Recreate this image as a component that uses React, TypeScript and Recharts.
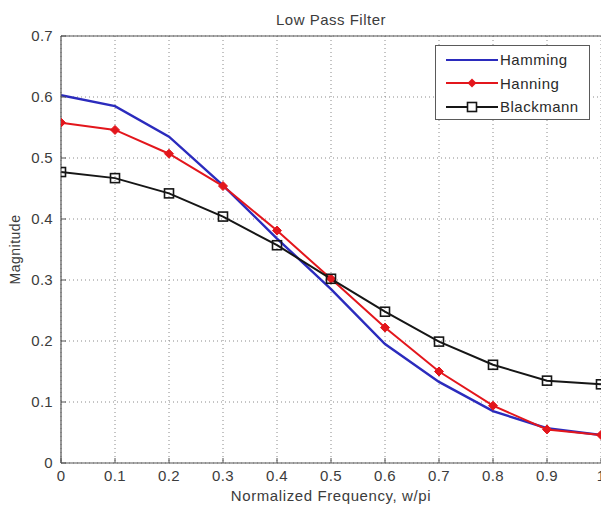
import React from "react";
import { LineChart, Line, XAxis, YAxis, CartesianGrid, Legend, ReferenceLine, Label } from "recharts";

const frequencies = [0, 0.1, 0.2, 0.3, 0.4, 0.5, 0.6, 0.7, 0.8, 0.9, 1.0];
const xTickLabels = ["0", "0.1", "0.2", "0.3", "0.4", "0.5", "0.6", "0.7", "0.8", "0.9", "1"];
const yTicks = [0, 0.1, 0.2, 0.3, 0.4, 0.5, 0.6, 0.7];
const yTickLabels = ["0", "0.1", "0.2", "0.3", "0.4", "0.5", "0.6", "0.7"];

const hamming = [0.603, 0.585, 0.535, 0.455, 0.368, 0.285, 0.195, 0.133, 0.085, 0.057, 0.046];
const hanning = [0.558, 0.546, 0.507, 0.454, 0.381, 0.302, 0.222, 0.15, 0.094, 0.055, 0.046];
const blackmann = [0.477, 0.467, 0.442, 0.404, 0.357, 0.302, 0.248, 0.199, 0.161, 0.135, 0.129];

const seriesNames = ["Hamming", "Hanning", "Blackmann"];
const seriesColors = ["#2b2bbd", "#e3161c", "#161616"];

const data = frequencies.map((x, i) => ({
  x,
  hamming: hamming[i],
  hanning: hanning[i],
  blackmann: blackmann[i],
}));

const FONT = "'Liberation Sans', Arial, sans-serif";
const TEXT = "#3c3c3c";

const Diamond = (props: any) => {
  const { cx, cy, index } = props;
  if (cx == null || cy == null) return <g key={`d-${index}`} />;
  const r = 4.5;
  return (
    <polygon
      key={`d-${index}`}
      points={`${cx},${cy - r} ${cx + r},${cy} ${cx},${cy + r} ${cx - r},${cy}`}
      fill={seriesColors[1]}
      stroke={seriesColors[1]}
      strokeWidth={1}
    />
  );
};

const Square = (props: any) => {
  const { cx, cy, index } = props;
  if (cx == null || cy == null) return <g key={`s-${index}`} />;
  const s = 9;
  return (
    <rect
      key={`s-${index}`}
      x={cx - s / 2}
      y={cy - s / 2}
      width={s}
      height={s}
      fill="none"
      stroke={seriesColors[2]}
      strokeWidth={1.6}
    />
  );
};

const LegendBox = () => (
  <div
    style={{
      width: 153,
      height: 71,
      border: "1px solid #5a5a5a",
      background: "#fff",
      boxSizing: "content-box",
      paddingTop: 2,
    }}
  >
    {seriesNames.map((name, i) => (
      <div key={name} style={{ display: "flex", alignItems: "center", height: 23.5 }}>
        <svg width={62} height={14} style={{ marginLeft: 8 }}>
          <line x1={2} y1={7} x2={54} y2={7} stroke={seriesColors[i]} strokeWidth={2.2} />
          {i === 1 && <polygon points="28,2.5 32.5,7 28,11.5 23.5,7" fill={seriesColors[1]} />}
          {i === 2 && <rect x={23.5} y={2.5} width={9} height={9} fill="#fff" stroke={seriesColors[2]} strokeWidth={1.6} />}
        </svg>
        <span
          style={{
            fontFamily: FONT,
            fontSize: 15,
            letterSpacing: 0.5,
            color: "#2a2a2a",
            marginLeft: -6,
          }}
        >
          {name}
        </span>
      </div>
    ))}
  </div>
);

const XLabel = (props: any) => {
  const vb = props.viewBox || {};
  return (
    <text
      x={vb.x + vb.width / 2}
      y={495}
      textAnchor="middle"
      dominantBaseline="central"
      fontFamily={FONT}
      fontSize={15}
      letterSpacing={0.6}
      fill={TEXT}
    >
      Normalized Frequency, w/pi
    </text>
  );
};

const YLabel = (props: any) => {
  const vb = props.viewBox || {};
  const cy = vb.y + vb.height / 2;
  return (
    <text
      x={15}
      y={cy}
      transform={`rotate(-90, 15, ${cy})`}
      textAnchor="middle"
      dominantBaseline="central"
      fontFamily={FONT}
      fontSize={14}
      letterSpacing={0.5}
      fill={TEXT}
    >
      Magnitude
    </text>
  );
};

export default function App() {
  return (
    <div style={{ position: "absolute", left: 0, top: 0, width: 601, height: 508, background: "#fff" }}>
      <div
        style={{
          position: "absolute",
          left: 61,
          width: 540,
          top: 10,
          textAlign: "center",
          fontFamily: FONT,
          fontSize: 15,
          letterSpacing: 0.5,
          lineHeight: "20px",
          color: TEXT,
        }}
      >
        Low Pass Filter
      </div>
      <LineChart width={601} height={508} data={data} margin={{ top: 36, right: 0, bottom: 0, left: 0 }}>
        <CartesianGrid stroke="#8a8a8a" strokeDasharray="1 3" strokeWidth={1} />
        <XAxis
          dataKey="x"
          type="number"
          domain={[0, 1]}
          ticks={frequencies}
          tickFormatter={(v: number) => xTickLabels[frequencies.findIndex((f) => Math.abs(f - v) < 1e-6)] ?? String(v)}
          height={45}
          interval={0}
          allowDataOverflow
          axisLine={{ stroke: "#555", strokeWidth: 1.2 }}
          tickLine={{ stroke: "#555" }}
          tickSize={-5}
          tickMargin={12}
          tick={{ fill: TEXT, fontSize: 15, fontFamily: FONT, letterSpacing: 0.3 }}
        >
          <Label content={<XLabel />} />
        </XAxis>
        <YAxis
          type="number"
          domain={[0, 0.7]}
          ticks={yTicks}
          tickFormatter={(v: number) => yTickLabels[yTicks.findIndex((t) => Math.abs(t - v) < 1e-6)] ?? String(v)}
          width={61}
          interval={0}
          allowDataOverflow
          axisLine={{ stroke: "#555", strokeWidth: 1.2 }}
          tickLine={{ stroke: "#555" }}
          tickSize={-5}
          tickMargin={13}
          tick={{ fill: TEXT, fontSize: 15, fontFamily: FONT, letterSpacing: 0.3 }}
        >
          <Label content={<YLabel />} />
        </YAxis>
        <ReferenceLine y={0.7} stroke="#555" strokeWidth={1.2} ifOverflow="visible" />
        <Line
          type="linear"
          dataKey="hamming"
          name={seriesNames[0]}
          stroke={seriesColors[0]}
          strokeWidth={2.4}
          dot={false}
          activeDot={false}
          isAnimationActive={false}
        />
        <Line
          type="linear"
          dataKey="hanning"
          name={seriesNames[1]}
          stroke={seriesColors[1]}
          strokeWidth={2}
          dot={Diamond}
          activeDot={false}
          isAnimationActive={false}
        />
        <Line
          type="linear"
          dataKey="blackmann"
          name={seriesNames[2]}
          stroke={seriesColors[2]}
          strokeWidth={2}
          dot={Square}
          activeDot={false}
          isAnimationActive={false}
        />
        <Legend
          layout="vertical"
          align="center"
          verticalAlign="middle"
          content={<LegendBox />}
          wrapperStyle={{ left: 435, top: 45, width: 155, height: 73 }}
        />
      </LineChart>
    </div>
  );
}
